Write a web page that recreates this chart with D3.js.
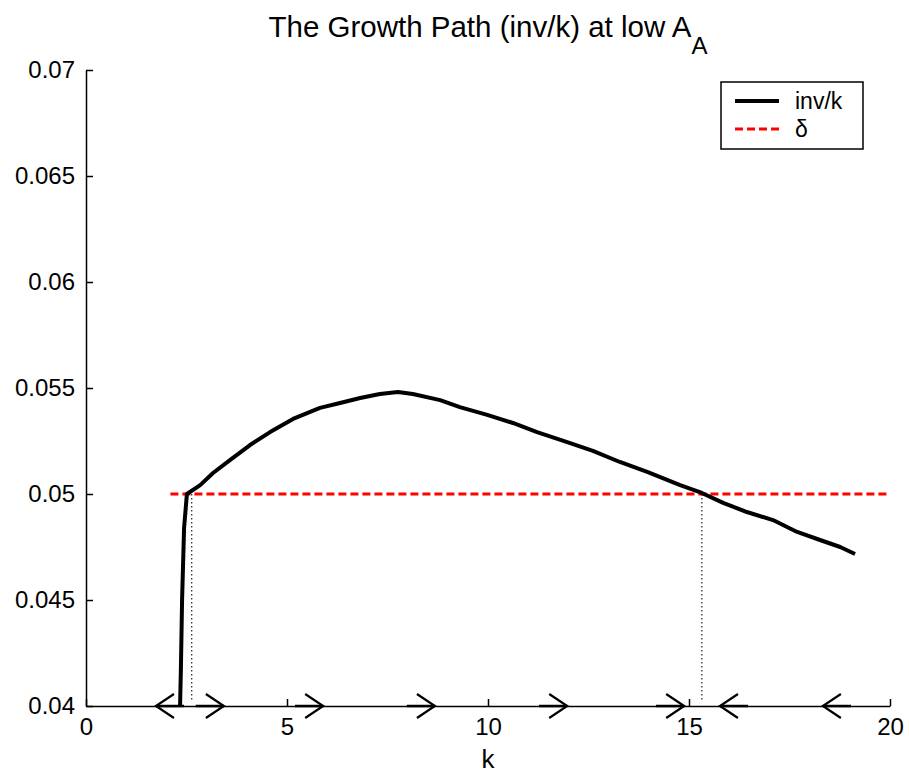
<!DOCTYPE html>
<html>
<head>
<meta charset="utf-8">
<script src="https://cdn.jsdelivr.net/npm/d3@7"></script>
<style>
    body { margin: 0; background: #fff; }
    svg { display: block; font-family: 'Liberation Sans', Arial, sans-serif; }
</style>
</head>
<body>
<div id="chart"></div>
<script>
// inv/k along the growth path
const kValues = [2.34, 2.36, 2.39, 2.44, 2.51, 2.84, 3.16, 3.58, 4.08, 4.58, 5.15, 5.82, 6.32, 6.82,
    7.31, 7.76, 8.13, 8.81, 9.30, 9.98, 10.62, 11.22, 11.97, 12.61, 13.28, 13.96, 14.78, 15.32,
    15.85, 16.44, 17.09, 17.69, 18.26, 18.76, 19.13];
const invK = [0.0400, 0.0417, 0.0450, 0.0484, 0.0500, 0.05042, 0.05099, 0.05160, 0.05231, 0.05292,
    0.05354, 0.05406, 0.05429, 0.05453, 0.05472, 0.05481, 0.05472, 0.05443, 0.05410, 0.05373,
    0.05335, 0.05292, 0.05245, 0.05203, 0.05151, 0.05104, 0.05042, 0.05005, 0.04958, 0.04915,
    0.04877, 0.04821, 0.04783, 0.04750, 0.04717];

const delta = 0.05;
const deltaRange = [2.1, 20];
const steadyStates = [2.63, 15.32];

// direction arrows on the k axis (tip position, direction)
const arrowTips = [1.74, 3.43, 5.90, 8.68, 11.97, 14.88, 15.77, 18.33];
const arrowDirs = [-1, 1, 1, 1, 1, 1, -1, -1];
const arrowLength = 0.7;

const xTicks = [0, 5, 10, 15, 20];
const yTicks = [0.04, 0.045, 0.05, 0.055, 0.06, 0.065, 0.07];
const yTickLabels = ['0.04', '0.045', '0.05', '0.055', '0.06', '0.065', '0.07'];

const legendLabels = ['inv/k', 'δ'];
const legendColors = ['#000', '#ff0000'];
const legendDash = [null, '8,4'];

const margin = { top: 70, right: 19, bottom: 68, left: 86 };
const totalWidth = 909, totalHeight = 774;
const width = totalWidth - margin.left - margin.right;
const height = totalHeight - margin.top - margin.bottom;

const root = d3.select('#chart')
    .append('svg')
    .attr('width', totalWidth)
    .attr('height', totalHeight);

root.append('rect')
    .attr('width', totalWidth)
    .attr('height', totalHeight)
    .attr('fill', '#fff');

const svg = root.append('g')
    .attr('transform', `translate(${margin.left}, ${margin.top})`);

const xScale = d3.scaleLinear().domain([0, 20]).range([0, width]);
const yScale = d3.scaleLinear().domain([0.04, 0.07]).range([height, 0]);

// axes
const xAxis = svg.append('g')
    .attr('transform', `translate(0, ${height})`)
    .call(d3.axisBottom(xScale).tickValues(xTicks).tickSize(-7).tickSizeOuter(0).tickPadding(12));

const yAxis = svg.append('g')
    .call(d3.axisLeft(yScale).tickValues(yTicks)
        .tickFormat((d, i) => yTickLabels[i])
        .tickSize(-7).tickSizeOuter(0).tickPadding(11));

[xAxis, yAxis].forEach(ax => {
    ax.selectAll('path, line').attr('stroke', '#000').attr('stroke-width', 1.5);
    ax.selectAll('text').style('font-size', '24px').attr('fill', '#000');
});

// delta line
svg.append('line')
    .attr('x1', xScale(deltaRange[0]))
    .attr('x2', xScale(deltaRange[1]))
    .attr('y1', yScale(delta))
    .attr('y2', yScale(delta))
    .attr('stroke', '#ff0000')
    .attr('stroke-width', 3)
    .attr('stroke-dasharray', '8,4');

// dotted drop lines at the crossings
svg.selectAll('.drop')
    .data(steadyStates)
    .enter().append('line')
    .attr('class', 'drop')
    .attr('x1', d => xScale(d))
    .attr('x2', d => xScale(d))
    .attr('y1', yScale(delta))
    .attr('y2', height - 5)
    .attr('stroke', '#222')
    .attr('stroke-width', 1.2)
    .attr('stroke-dasharray', '1.5,2.5');

// growth path
const lineData = kValues.map((k, i) => ({ k: k, v: invK[i] }));
const line = d3.line()
    .x(d => xScale(d.k))
    .y(d => yScale(d.v));

svg.append('path')
    .datum(lineData)
    .attr('fill', 'none')
    .attr('stroke', '#000')
    .attr('stroke-width', 4)
    .attr('stroke-linejoin', 'round')
    .attr('d', line);

// arrows
const arrows = arrowTips.map((t, i) => ({ tip: t, dir: arrowDirs[i] }));
const arrowG = svg.selectAll('.arrow')
    .data(arrows)
    .enter().append('g')
    .attr('class', 'arrow')
    .attr('transform', d => `translate(${xScale(d.tip)}, ${height})`);

arrowG.append('line')
    .attr('x1', 0)
    .attr('x2', d => -d.dir * (xScale(arrowLength) - xScale(0)))
    .attr('y1', 0).attr('y2', 0)
    .attr('stroke', '#000')
    .attr('stroke-width', 2.5);

arrowG.append('path')
    .attr('d', d => `M${-d.dir * 18},-12 L0,0 L${-d.dir * 18},12`)
    .attr('fill', 'none')
    .attr('stroke', '#000')
    .attr('stroke-width', 2.2);

// labels
svg.append('text')
    .attr('x', width / 2)
    .attr('y', height + 62)
    .attr('text-anchor', 'middle')
    .style('font-size', '26px')
    .text('k');

const title = root.append('text')
    .attr('x', margin.left + width / 2)
    .attr('y', 37)
    .attr('text-anchor', 'middle')
    .style('font-size', '29.5px');
title.append('tspan').text('The Growth Path (inv/k) at low A');
title.append('tspan')
    .attr('dy', 17)
    .style('font-size', '24px')
    .text('A');

// legend
const legend = root.append('g')
    .attr('transform', 'translate(721, 82)');

legend.append('rect')
    .attr('width', 142)
    .attr('height', 67)
    .attr('fill', '#fff')
    .attr('stroke', '#000')
    .attr('stroke-width', 1.5);

const items = legend.selectAll('.item')
    .data(legendLabels)
    .enter().append('g')
    .attr('class', 'item')
    .attr('transform', (d, i) => `translate(0, ${19 + i * 28})`);

items.append('line')
    .attr('x1', 14).attr('x2', 58)
    .attr('y1', 0).attr('y2', 0)
    .attr('stroke', (d, i) => legendColors[i])
    .attr('stroke-width', (d, i) => i === 0 ? 4 : 3)
    .attr('stroke-dasharray', (d, i) => legendDash[i]);

items.append('text')
    .attr('x', 74)
    .attr('y', 8)
    .style('font-size', '23px')
    .text(d => d);
</script>
</body>
</html>
